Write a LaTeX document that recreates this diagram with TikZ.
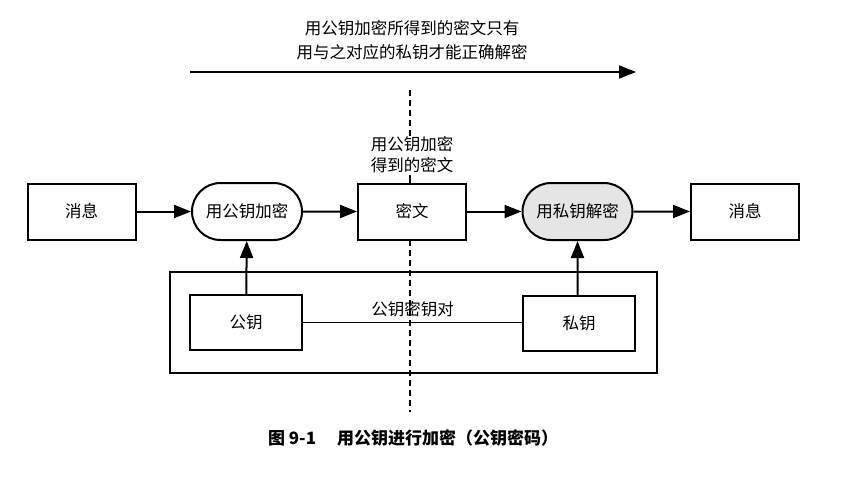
\documentclass[tikz,border=0pt]{standalone}
\usepackage{fontspec}
\setmainfont{Noto Sans CJK SC}
\usetikzlibrary{arrows.meta,shapes.misc}
\begin{document}
\begin{tikzpicture}[x=1pt,y=-1pt,
  every node/.style={font=\fontsize{16.5}{21}\selectfont},
  boxnode/.style={draw,line width=2pt,minimum width=108pt,minimum height=56pt,inner sep=0pt},
  pillnode/.style={draw,line width=2pt,rounded rectangle,minimum width=110pt,minimum height=57pt,inner sep=0pt},
  keybox/.style={draw,line width=2pt,minimum width=112pt,minimum height=55pt,inner sep=0pt},
  flow/.style={line width=2pt,-{Triangle[length=17pt,width=13pt]}},
  divider/.style={line width=2pt,dash pattern=on 6pt off 4pt}]
\useasboundingbox (0,0) rectangle (853,477);
% top text and arrow
\node[align=center,font=\fontsize{16.5}{24}\selectfont] (toptext) at (412,40) {用公钥加密所得到的密文只有\\用与之对应的私钥才能正确解密};
\coordinate (ta) at (190,72);
\coordinate (tb) at (636,72);
\draw[flow] (ta) -- (tb);
% dashed divider
\coordinate (d1) at (410,90);
\coordinate (d2) at (410,136);
\coordinate (d3) at (410,240);
\coordinate (d4) at (410,412);
\draw[divider] (d1) -- (d2);
\draw[divider] (d3) -- (d4);
% main row
\node[boxnode] (msg1) at (81.5,211.5) {消息};
\node[pillnode] (enc) at (247,211.5) {用公钥加密};
\node[align=center,inner sep=1pt] (ctlabel) at (412,155) {用公钥加密\\得到的密文};
\coordinate (d5) at (410,175);
\coordinate (d6) at (410,183);
\draw[line width=2pt] (d5) -- (d6);
\node[boxnode] (ct) at (412,211.5) {密文};
\node[pillnode,fill=black!10] (dec) at (577.5,211.5) {用私钥解密};
\node[boxnode] (msg2) at (745,211.5) {消息};
\draw[flow] (msg1) -- (enc);
\draw[flow] (enc) -- (ct);
\draw[flow] (ct) -- (dec);
\draw[flow] (dec) -- (msg2);
% key pair
\node[draw,line width=1.6pt,minimum width=487pt,minimum height=101pt,inner sep=0pt] (pair) at (413.5,322.5) {};
\node[keybox] (pub) at (246,322.5) {公钥};
\node[keybox] (priv) at (579,323.5) {私钥};
\draw[line width=1.1pt] (pub.east) -- node[above=2pt] (pairlabel) {公钥密钥对} (pub.east -| priv.west);
\draw[flow] (pub) -- (enc);
\draw[flow] (priv.north -| dec.south) -- (dec);
% caption
\node[font=\fontsize{17}{20}\selectfont\bfseries] (caption) at (413,438) {图 9-1\quad\ 用公钥进行加密（公钥密码）};
\end{tikzpicture}
\end{document}
